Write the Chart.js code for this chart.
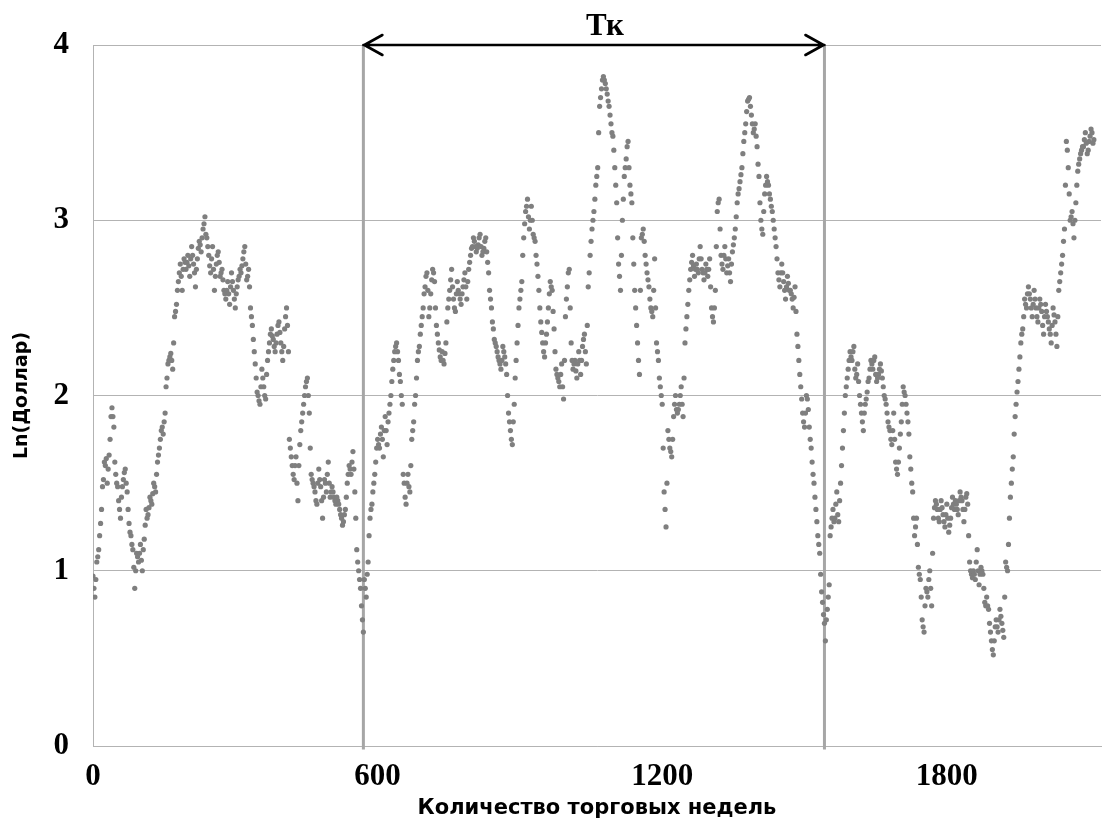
<!DOCTYPE html>
<html><head><meta charset="utf-8">
<script src="https://cdn.jsdelivr.net/npm/chart.js@4"></script>
<style>html,body{margin:0;padding:0;background:#fff}#wrap{width:1105px;height:821px;position:relative}</style>
</head><body><div id="wrap"><canvas id="c"></canvas></div>
<script>
// Values read from the picture, sampled every 2 trading weeks:
// lnDollar at weeks 0, 4, 8, ...; lnDollarMid at weeks 2, 6, 10, ...
const weekStep = 4;
const lnDollar = [
0.97,0.85,1.05,1.12,1.27,1.48,1.62,1.64,1.58,1.75,
1.93,1.82,1.55,1.48,1.35,1.42,1.52,1.58,1.45,1.27,
1.2,1.12,0.9,1.1,1.05,1.15,1.0,1.18,1.35,
1.32,1.42,1.38,1.5,1.45,1.62,1.7,1.8,1.78,1.9,
2.1,2.2,2.24,2.15,2.45,2.52,2.65,2.75,2.6,2.78,
2.72,2.8,2.68,2.85,2.75,2.62,2.78,2.88,2.82,
2.95,3.02,2.9,2.8,2.7,2.85,2.6,2.75,2.82,2.68,
2.72,2.6,2.55,2.65,2.52,2.7,2.6,2.5,2.62,2.68,
2.7,2.78,2.85,2.66,2.72,2.5,2.4,2.25,2.1,
2.0,1.95,2.15,2.05,1.98,2.2,2.3,2.38,2.32,2.25,
2.35,2.42,2.3,2.2,2.38,2.5,2.25,1.7,1.6,1.52,
1.65,1.4,1.72,1.85,1.95,2.05,2.1,1.9,1.55,
1.5,1.45,1.38,1.58,1.48,1.3,1.52,1.45,1.62,1.42,
1.48,1.42,1.38,1.4,1.35,1.3,1.28,1.35,1.5,1.6,
1.55,1.68,1.45,1.12,1.0,0.9,0.72,0.95,0.85,
1.05,1.3,1.38,1.5,1.62,1.75,1.7,1.82,1.65,1.88,
1.72,1.9,2.0,2.15,2.25,2.3,2.2,2.08,1.95,1.5,
1.38,1.55,1.45,1.75,1.85,2.0,2.2,2.28,2.4,
2.5,2.62,2.7,2.45,2.58,2.72,2.65,2.4,2.3,2.22,
2.25,2.18,2.3,2.5,2.6,2.72,2.55,2.48,2.65,2.58,
2.52,2.62,2.7,2.55,2.72,2.8,2.85,2.88,2.82,
2.86,2.92,2.8,2.84,2.9,2.76,2.6,2.5,2.38,2.3,
2.25,2.2,2.15,2.28,2.22,2.12,1.9,1.8,1.72,1.95,
2.2,2.4,2.55,2.65,2.9,3.05,3.12,2.95,3.08,
2.92,2.88,2.75,2.6,2.42,2.3,2.22,2.35,2.5,2.65,
2.6,2.38,2.15,2.1,2.05,2.18,1.98,2.45,2.62,2.72,
2.3,2.15,2.2,2.1,2.25,2.12,2.28,2.35,2.18,
2.62,2.8,2.95,3.05,3.2,3.3,3.65,3.75,3.82,3.78,
3.72,3.65,3.55,3.48,3.3,3.1,2.75,2.6,3.0,3.25,
3.35,3.45,3.2,3.1,2.75,2.5,2.3,2.12,2.9,
2.95,2.8,2.7,2.62,2.5,2.45,2.78,2.3,2.2,2.05,
1.95,1.45,1.25,1.8,1.7,1.65,1.88,2.0,1.9,1.95,
2.05,1.88,2.3,2.45,2.6,2.72,2.8,2.68,2.75,
2.7,2.85,2.72,2.66,2.75,2.68,2.78,2.5,2.42,2.6,
3.05,3.12,2.8,2.72,2.85,2.7,2.78,2.65,2.82,2.9,
3.02,3.15,3.22,3.3,3.45,3.55,3.68,3.7,3.6,
3.5,3.55,3.42,3.25,3.0,2.92,3.15,3.25,3.2,3.12,
3.05,2.95,2.85,2.7,2.62,2.75,2.65,2.55,2.68,2.6,
2.58,2.5,2.62,2.35,2.2,2.05,1.9,1.82,2.0,
1.92,1.75,1.62,1.5,1.35,1.2,1.1,0.88,0.75,0.6,
0.78,0.92,1.25,1.35,1.3,1.45,1.28,1.5,1.7,1.9,
2.05,2.15,2.25,2.2,2.28,2.1,2.18,2.0,1.9,
1.8,1.95,2.02,2.1,2.2,2.15,2.22,2.08,2.12,2.18,
2.1,2.0,1.95,1.85,1.8,1.72,1.9,1.62,1.55,1.7,
1.85,2.05,2.0,1.9,1.78,1.58,1.45,1.2,1.3,
1.02,0.95,0.72,0.65,0.9,0.85,1.0,0.8,1.3,1.4,
1.35,1.28,1.4,1.32,1.25,1.38,1.22,1.3,1.42,1.35,
1.38,1.32,1.45,1.4,1.28,1.42,1.38,1.05,0.98,
1.0,0.95,1.12,0.92,1.02,0.98,0.82,0.85,0.78,0.65,
0.55,0.6,0.72,0.65,0.78,0.7,0.62,1.05,1.0,1.3,
1.5,1.65,1.88,2.02,2.15,2.3,2.38,2.55,2.5,
2.62,2.55,2.45,2.6,2.5,2.42,2.55,2.48,2.35,2.52,
2.45,2.38,2.3,2.5,2.42,2.28,2.6,2.7,2.8,2.95,
3.45,3.3,3.0,3.05,2.9,3.1,3.28,3.35,3.4,
3.42,3.5,3.38,3.45,3.52,3.44
];
const lnDollarMid = [
0.9,0.95,1.08,1.2,1.35,1.52,1.6,1.5,1.66,1.88,
1.88,1.62,1.5,1.4,1.3,1.48,1.56,1.5,1.35,1.22,
1.15,1.02,1.0,1.08,1.1,1.06,1.12,1.26,1.3,
1.36,1.4,1.44,1.48,1.55,1.66,1.75,1.82,1.85,2.05,
2.18,2.22,2.2,2.3,2.48,2.6,2.7,2.68,2.72,2.76,
2.76,2.74,2.78,2.8,2.7,2.72,2.84,2.86,2.9,
2.98,2.92,2.85,2.74,2.78,2.72,2.68,2.8,2.76,2.7,
2.66,2.58,2.6,2.58,2.62,2.65,2.55,2.58,2.66,2.72,
2.74,2.82,2.75,2.68,2.62,2.45,2.32,2.18,2.02,
1.97,2.05,2.1,2.0,2.12,2.25,2.35,2.34,2.28,2.3,
2.4,2.36,2.25,2.28,2.45,2.4,1.75,1.65,1.55,1.6,
1.5,1.6,1.8,1.9,2.0,2.08,2.0,1.7,1.52,
1.48,1.4,1.5,1.52,1.4,1.42,1.5,1.55,1.5,1.45,
1.45,1.4,1.42,1.38,1.32,1.26,1.32,1.42,1.55,1.58,
1.62,1.58,1.3,1.05,0.95,0.8,0.65,0.9,0.98,
1.2,1.35,1.45,1.55,1.7,1.72,1.78,1.75,1.8,1.8,
1.85,1.95,2.08,2.2,2.28,2.25,2.12,2.0,1.55,1.42,
1.5,1.48,1.6,1.8,1.95,2.1,2.25,2.35,2.45,
2.58,2.68,2.6,2.5,2.66,2.7,2.5,2.35,2.26,2.2,
2.2,2.24,2.42,2.55,2.66,2.62,2.5,2.58,2.6,2.55,
2.58,2.66,2.62,2.65,2.76,2.84,2.9,2.85,2.84,
2.9,2.85,2.82,2.88,2.82,2.7,2.55,2.42,2.32,2.28,
2.22,2.18,2.2,2.25,2.18,2.0,1.85,1.75,1.85,2.1,
2.3,2.5,2.6,2.8,2.98,3.08,3.02,3.0,3.0,
2.9,2.8,2.68,2.5,2.36,2.25,2.3,2.42,2.58,2.62,
2.48,2.25,2.12,2.08,2.12,2.05,2.2,2.55,2.7,2.5,
2.2,2.18,2.14,2.18,2.2,2.2,2.32,2.25,2.4,
2.7,2.88,3.0,3.12,3.25,3.5,3.7,3.8,3.8,3.75,
3.68,3.6,3.5,3.4,3.2,2.9,2.68,2.8,3.12,3.3,
3.42,3.3,3.15,2.9,2.6,2.4,2.2,2.6,2.92,
2.88,2.75,2.66,2.55,2.48,2.6,2.5,2.25,2.1,2.0,
1.7,1.35,1.5,1.75,1.68,1.75,1.95,1.92,1.92,2.0,
1.95,2.1,2.38,2.52,2.66,2.76,2.74,2.72,2.72,
2.78,2.78,2.7,2.7,2.72,2.72,2.62,2.45,2.5,2.85,
3.1,2.95,2.75,2.8,2.78,2.74,2.7,2.75,2.86,2.95,
3.1,3.18,3.26,3.38,3.5,3.62,3.69,3.65,3.55,
3.52,3.48,3.32,3.1,2.95,3.05,3.2,3.22,3.15,3.08,
3.0,2.9,2.78,2.66,2.7,2.7,2.6,2.62,2.64,2.6,
2.55,2.56,2.48,2.28,2.12,1.98,1.85,1.9,1.98,
1.82,1.7,1.55,1.42,1.28,1.15,0.98,0.82,0.7,0.72,
0.85,1.2,1.3,1.28,1.38,1.32,1.4,1.6,1.8,2.0,
2.1,2.2,2.22,2.25,2.15,2.12,2.08,1.95,1.85,
1.9,1.98,2.08,2.15,2.18,2.2,2.12,2.1,2.15,2.14,
2.05,1.98,1.9,1.82,1.75,1.8,1.75,1.58,1.62,1.78,
1.95,2.02,1.95,1.85,1.65,1.5,1.3,1.25,1.15,
0.98,0.85,0.68,0.8,0.88,0.95,0.9,1.1,1.36,1.38,
1.3,1.35,1.36,1.28,1.32,1.3,1.26,1.36,1.38,1.4,
1.35,1.4,1.42,1.35,1.35,1.44,1.2,1.0,0.96,
0.98,1.05,1.0,0.98,1.0,0.9,0.8,0.8,0.7,0.6,
0.52,0.68,0.68,0.72,0.74,0.66,0.85,1.02,1.15,1.42,
1.58,1.78,1.95,2.08,2.22,2.35,2.45,2.52,2.58,
2.58,2.5,2.52,2.55,2.45,2.5,2.52,2.4,2.45,2.48,
2.42,2.35,2.4,2.46,2.35,2.45,2.65,2.75,2.88,3.2,
3.4,3.15,3.02,2.98,3.0,3.2,3.32,3.38,3.42,
3.46,3.44,3.4,3.48,3.5,3.46
];
const xTickValues = [0, 600, 1200, 1800];
const yTickValues = [0, 1, 2, 3, 4];
const xMin = 0, xMax = 2125;
const yMin = 0, yMax = 4;
const periodBounds = [570, 1542];
const periodLabel = 'Тк';
const xTitle = 'Количество торговых недель';
const yTitle = 'Ln(Доллар)';

const gridGray = '#b3b3b3';
const points = [];
lnDollar.forEach((v, i) => points.push({x: i * weekStep, y: v}));
lnDollarMid.forEach((v, i) => points.push({x: i * weekStep + weekStep / 2, y: v}));

const boundaryDatasets = periodBounds.map(b => ({
  type: 'line',
  data: [{x: b, y: yMin - 0.02}, {x: b, y: yMax}],
  borderColor: '#a6a6a6', borderWidth: 3, pointRadius: 0, clip: false, order: 2
}));

const arrowPlugin = {
  id: 'periodArrow',
  afterDraw(chart) {
    const ctx = chart.ctx, xs = chart.scales.x, ys = chart.scales.y;
    const x1 = xs.getPixelForValue(periodBounds[0]);
    const x2 = xs.getPixelForValue(periodBounds[1]);
    const y = ys.getPixelForValue(yMax);
    ctx.save();
    ctx.strokeStyle = '#000'; ctx.lineWidth = 2.6; ctx.lineCap = 'round'; ctx.lineJoin = 'round';
    ctx.beginPath();
    ctx.moveTo(x1, y); ctx.lineTo(x2, y);
    ctx.moveTo(x1 + 19, y - 10); ctx.lineTo(x1 + 1, y); ctx.lineTo(x1 + 19, y + 10);
    ctx.moveTo(x2 - 19, y - 10); ctx.lineTo(x2 - 1, y); ctx.lineTo(x2 - 19, y + 10);
    ctx.stroke();
    ctx.fillStyle = '#000';
    ctx.font = 'bold 31px "Liberation Serif", "Times New Roman", serif';
    ctx.textAlign = 'center'; ctx.textBaseline = 'middle';
    ctx.fillText(periodLabel, (x1 + x2) / 2 + 11, y - 18);
    ctx.restore();
  }
};

const tickFont = {family: '"Liberation Serif", "Times New Roman", serif', size: 31, weight: 'bold'};
const xTitleFont = {family: '"DejaVu Sans", sans-serif', size: 21, weight: 'bold'};
const yTitleFont = {family: '"DejaVu Sans", sans-serif', size: 19, weight: 'bold'};

new Chart(document.getElementById('c'), {
  type: 'scatter',
  data: {
    datasets: [{
      data: points,
      pointRadius: 2.6,
      pointBackgroundColor: '#7f7f7f',
      pointBorderWidth: 0,
      order: 1
    }, ...boundaryDatasets]
  },
  options: {
    responsive: true,
    maintainAspectRatio: false,
    animation: false,
    layout: {padding: {top: 45, right: 2, left: 0, bottom: 0}},
    plugins: {legend: {display: false}, tooltip: {enabled: false}},
    scales: {
      x: {
        type: 'linear', min: xMin, max: xMax,
        afterBuildTicks: s => { s.ticks = xTickValues.map(v => ({value: v})); },
        afterFit: s => { s.height = 75; },
        grid: {display: false, drawTicks: false},
        border: {color: gridGray, width: 1},
        ticks: {font: tickFont, color: '#000', padding: 12, maxRotation: 0, autoSkip: false,
                callback: v => String(v)},
        title: {display: true, text: xTitle, font: xTitleFont, color: '#000', padding: {top: 0, bottom: 0}}
      },
      y: {
        min: yMin, max: yMax,
        afterBuildTicks: s => { s.ticks = yTickValues.map(v => ({value: v})); },
        afterFit: s => { s.width = 93; },
        grid: {color: gridGray, lineWidth: 1, drawTicks: false},
        border: {color: gridGray, width: 1},
        ticks: {font: tickFont, color: '#000', padding: 24, callback: v => String(v)},
        title: {display: true, text: yTitle, font: yTitleFont, color: '#000', padding: {top: 11, bottom: 0}}
      }
    }
  },
  plugins: [arrowPlugin]
});
</script>
</body></html>
